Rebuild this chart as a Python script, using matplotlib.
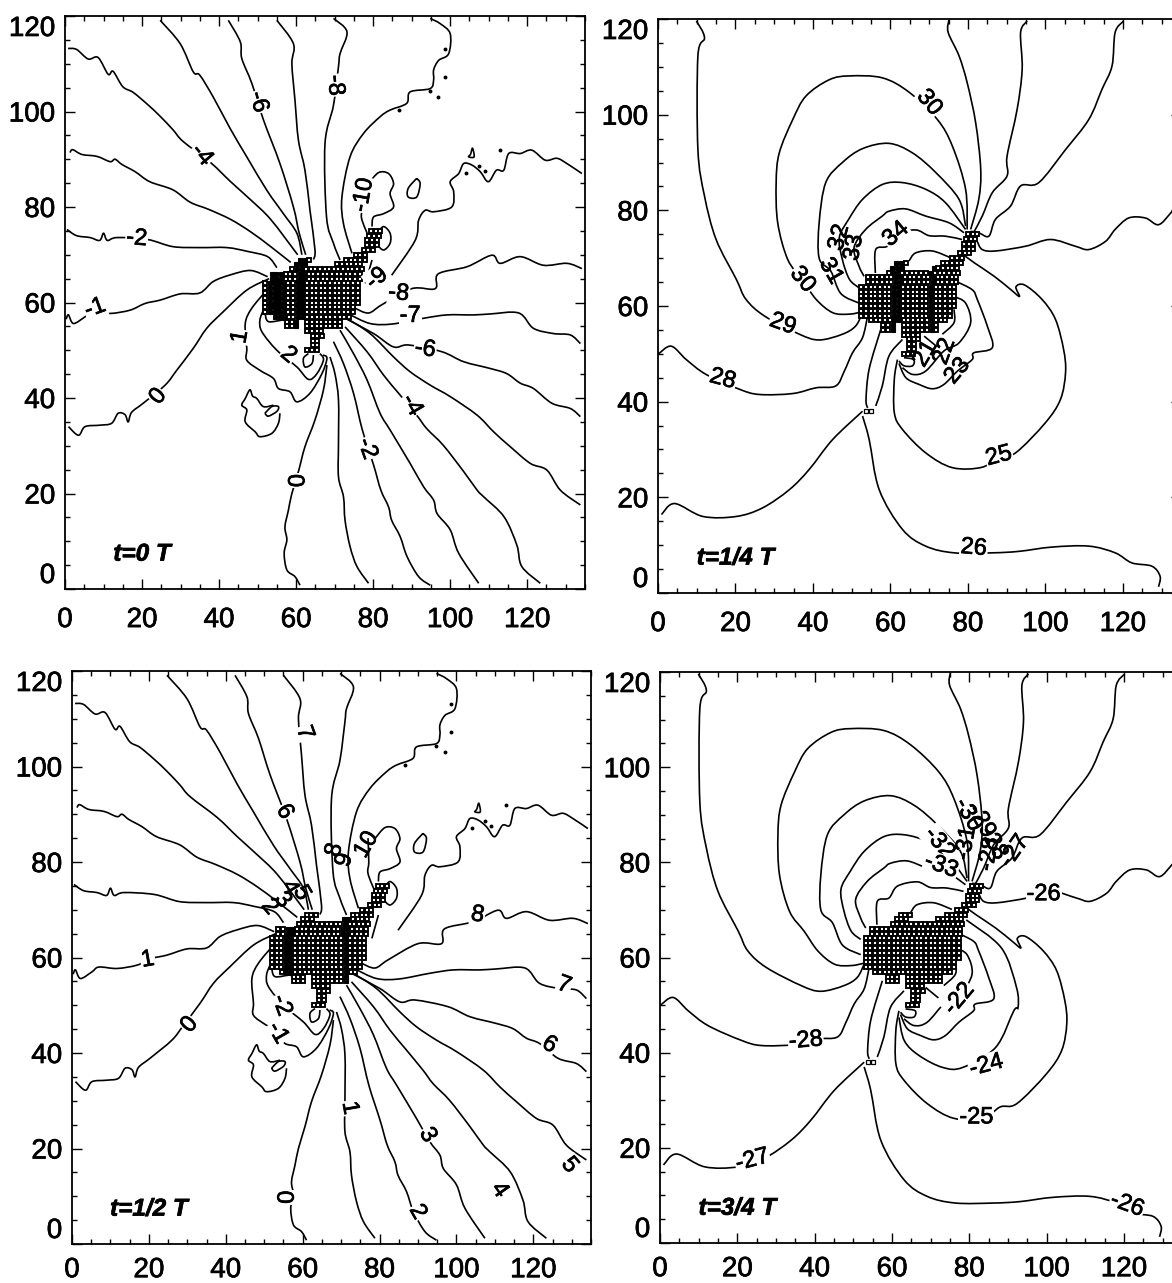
import numpy as np
import matplotlib
matplotlib.use("Agg")
import matplotlib.pyplot as plt
import matplotlib.patheffects as pe
from matplotlib.patches import PathPatch
from matplotlib.path import Path

plt.rcParams["font.family"] = ["Liberation Sans", "DejaVu Sans"]

W, H = 1172, 1283

# ---------------------------------------------------------------------------
# Contours of the two left panels (t=0 T, t=1/2 T), data coordinates
# ---------------------------------------------------------------------------
L_M1 = [(0.3, 56.5), (0.9, 57.4), (2.2, 55.6), (5.2, 57), (7, 58), (11.7, 57.7), (16.9, 58.4), (20.8, 59.8), (24.7, 60.5),
        (29.9, 61.8), (35, 62), (38.5, 64.4), (43, 65.8), (48.2, 66.7), (52.6, 65.4)]
L_M2 = [(0.5, 75.3), (3, 74), (6.5, 73.6), (9, 73), (10, 74.5), (11, 73), (13.5, 73.6), (21.4, 73.2), (28, 71.7), (35, 71.5),
        (42, 71.5), (47.4, 70.7), (52.6, 69.6), (55, 67.3)]
L_M3 = [(1.3, 91.4), (2, 92), (4.4, 91), (8.3, 90.6), (11.7, 89.5), (13, 90), (14.8, 88.9), (18.2, 87.4), (22, 85.3),
        (28, 83.6), (32.5, 81), (37.3, 79.5), (43, 77.4), (48.2, 74.8), (53.4, 71.7), (58.6, 68.4)]
L_M4 = [(0.8, 113.2), (3, 113), (6, 111), (8.6, 111.3), (11.2, 107.8), (12.5, 108.4), (15, 105.2), (17.7, 104), (21.4, 101.5),
        (24.7, 99), (28, 96.2), (30.7, 93.7), (37.8, 89.3), (43, 85.3), (48.2, 81.5), (53.4, 77.4), (60.4, 70)]
L_M5 = [(24.7, 119.1), (29.9, 114.2), (33.3, 108.3), (35, 107.6), (38.5, 103), (42.9, 96.4), (47.2, 90.5), (52.4, 83.5),
        (56.7, 78.6), (60.2, 74.5), (61.5, 70)]
L_M6 = [(42.4, 119.1), (45.5, 114.6), (45.9, 111.1), (48.5, 105.9), (51.5, 98.3), (55.8, 89.1), (59.3, 80), (60.8, 74.5), (62.5, 70)]
L_M7 = [(55, 119.1), (59.3, 114.2), (58.9, 110), (59.7, 102.4), (60.6, 94), (62.3, 87.7), (63.6, 79.3), (64.9, 71), (64.5, 69)]
L_M8 = [(69.7, 119.5), (73.2, 116.7), (71.4, 112.1), (71, 109.4), (69.7, 101.3), (67.5, 93.3), (67.9, 77.9), (69.7, 72.4), (71.4, 68.9)]
L_M9 = [(94.8, 119.5), (97.4, 118.4), (100, 116.3), (99.6, 112.1), (97, 110.7), (95.7, 108.7), (95.7, 106.6), (94.8, 104.8),
        (89.6, 104.1), (88.7, 101.7), (84.4, 100.3), (81.8, 98.9), (77.5, 95.4), (74, 90.5), (71.9, 82.1), (72.3, 76.5), (74.5, 70.3)]
L_M10 = [(78.8, 84.9), (81.4, 87.2), (84, 87), (85.3, 84.9), (84.4, 82.8), (85.3, 80), (82.7, 78.6), (80.1, 77.9), (79.7, 75.9)]
L_M10B = [(77, 85), (77.2, 80), (77, 77.6), (78.8, 73.8)]
L_LOOP1 = [(81.1, 74.5), (82.7, 75.9), (84.4, 74.5), (84.4, 72.4), (82.7, 71), (81.1, 72.3), (81.1, 74.5)]
L_LOOP2 = [(91.3, 86), (92.2, 84.9), (91.3, 82.1), (89.1, 82.1), (89.1, 83.9), (91.3, 86)]
L_LOOP3 = [(105.3, 91), (105.8, 92.3), (106.2, 90.5), (104.8, 90.5), (105.3, 91)]
L_E9 = [(78, 64), (79.7, 68.9)]
L_E9B = [(84.8, 65.7), (90.9, 73), (91.8, 77.2), (93.5, 79.3), (95.7, 79), (100.4, 80), (100.9, 83.2), (100, 85.3), (102.2, 87),
         (103.5, 89.1), (105.6, 88.8), (107.8, 87.4), (109.9, 85.3), (112, 87.7), (113.9, 87.7), (115.2, 91.2), (118.2, 91.2),
         (121.2, 91.9), (124.7, 89.8), (127.7, 90.2), (130.3, 89.1), (134.2, 87)]
L_E8 = [(75.3, 58.8), (78.8, 57.8), (82.2, 59.5), (90, 62.9), (96.1, 62.9), (96.9, 66), (104.4, 67.5), (110.8, 69.9), (113, 68.2),
        (118.2, 69.6), (124.2, 67.8), (130.3, 68.2), (134.2, 67.1)]
L_E7 = [(73.6, 57.6), (79.2, 55.6), (85, 55.5), (93.1, 56.7), (99.2, 57.4), (106.1, 57.4), (110.4, 57.6), (117.8, 57.8), (121.6, 54.6),
        (126.8, 53.5), (131.2, 53.2), (133.8, 51.4)]
L_E6 = [(72.7, 56.7), (80.1, 53.5), (85.3, 50.7), (89.2, 51.1), (97.8, 49.7), (103.5, 47.6), (110.3, 46.2), (114.7, 45.1), (118.2, 43.1),
        (121.6, 42), (126.4, 38.9), (131.2, 37.8), (133.8, 36.1)]
L_E5 = [(73.1, 56.7), (79.2, 53.5), (85.3, 48.6), (89.6, 45.5), (94.8, 42.7), (100, 40.3), (107, 36.4), (111.3, 32.9), (115.6, 29.8),
        (120.8, 26.3), (125.1, 24.9), (128.6, 20.7), (133.8, 17.6)]
L_S4 = [(72.7, 54.9), (78.4, 49.7), (82.7, 44.8), (86.6, 41), (91.3, 36.4), (93.9, 33.6), (98.2, 30.1), (103.5, 24.6), (107, 20.7),
        (108.7, 19.3), (114, 15.1), (117.3, 9.2), (118.6, 4.7), (123.4, 1.2)]
L_S3 = [(71.4, 54.2), (74.9, 49.3), (78.4, 43.8), (81.8, 36.8), (84.4, 33.3), (89.6, 26.3), (93.1, 21.4), (95.7, 18.6), (96.6, 15.8),
        (100, 12.4), (102.2, 7.5), (107.4, 1.2)]
L_S2 = [(69.7, 51.8), (72.3, 47.2), (74.9, 41), (77.2, 33.3), (80.1, 26), (82, 20.7), (84, 17.2), (84.8, 14.4), (87, 11), (88.8, 6.8),
        (91.8, 2.6), (94.8, 0.8)]
L_S1 = [(68.8, 48.6), (70.1, 45), (71, 39.6), (71, 30.5), (71, 23.5), (72.3, 19.3), (72.7, 14.4), (74, 8.9), (75.8, 4.7), (78.8, 1.2)]
L_S0 = [(68, 46.9), (67.1, 41.7), (64.9, 35.4), (62.3, 29.8), (60.6, 24.6), (58.9, 20), (58, 16.5), (57.1, 13), (57.6, 10.3), (56.9, 7.5),
        (57.6, 4), (59.7, 2.6), (61, 0.8)]
L_W0 = [(0.9, 34), (3.5, 32.2), (5.2, 34), (9, 34.3), (12.1, 34.7), (13.8, 36.8), (15.6, 36.5), (16.4, 35), (17.3, 37), (20.3, 38.9),
        (26, 42.7), (29, 45.8), (33.3, 50.4), (36.8, 54.6), (41, 58), (47.2, 62.6), (53, 65)]
L_P1 = [(52.4, 62.6), (48.5, 58.8), (46.8, 55.6), (47.2, 50.4), (47.2, 47.9), (50.6, 45.8), (54.1, 44.1), (55.4, 42), (58.4, 41.3),
        (60.2, 39.2), (63.6, 41), (66.7, 45.1), (68, 48.3), (67, 49)]
L_P2 = [(51.5, 58.4), (50.6, 56.3), (51.1, 53.9), (55, 50), (60.2, 46.5), (63.2, 43.9), (65.4, 45.1), (67.1, 48), (66.2, 49.3)]
L_P3 = [(51.9, 57.9), (52.8, 56), (56.7, 56.3), (57.6, 55.5)]
L_SPIRAL = [(63.2, 49.3), (61.9, 48.3), (62.3, 46.5), (64.1, 47.2), (64.5, 49)]
L_ISLE = [(55.8, 36.8), (55.4, 34.7), (53.7, 32.6), (50.6, 31.9), (49.4, 32.9), (46.8, 35), (47.2, 37.5), (45.9, 38.5), (46.8, 39.9),
          (48, 41.7), (48.7, 40.4), (49.8, 39.9), (51.5, 38.2), (54.1, 38.5)]
L_ISLE2 = [(51.9, 36.8), (53.7, 38.2), (55.4, 38.2), (55, 37.2), (52.8, 36.2), (51.9, 36.8)]
LEFT_LINES = [L_M1, L_M2, L_M3, L_M4, L_M5, L_M6, L_M7, L_M8, L_M9, L_M10, L_M10B, L_LOOP1, L_LOOP2, L_LOOP3, L_E9, L_E9B,
              L_E8, L_E7, L_E6, L_E5, L_S4, L_S3, L_S2, L_S1, L_S0, L_W0, L_P1, L_P2, L_P3, L_SPIRAL, L_ISLE, L_ISLE2]
LEFT_DOTS = [(98.7, 113), (98.7, 107.3), (96.9, 103), (94.8, 104.3), (86.7, 100.3), (113, 91.9), (104, 87.1), (107.5, 88.5), (109, 87.5)]

# ---------------------------------------------------------------------------
# Contours of the two right panels (t=1/4 T, t=3/4 T)
# ---------------------------------------------------------------------------
R_A = [(9.9, 119.6), (12, 116.1), (10.3, 112.3), (10.3, 92.7), (12, 83), (15, 73.9), (20.2, 65.6), (22.7, 61.4), (27.5, 57.9),
       (36.5, 54.1), (41.6, 52.9), (47.6, 54.1), (51, 55.8), (52.8, 58.6)]
R_B = [(79.8, 76), (79.4, 84.4), (76, 93.4), (72.1, 99), (64.8, 104.7), (57.9, 107.7), (49.4, 108.1), (44.2, 107.3), (38.2, 103.9),
       (34.8, 99), (31.3, 92), (30.5, 85.8), (30.9, 77.4), (33.5, 69.7), (37.3, 65.5), (40.8, 61.4), (45.1, 58.6), (49.4, 58.3), (52.8, 58.8)]
R_C = [(79.4, 76.7), (77.7, 82.3), (71.7, 87.9), (65.7, 92), (59.6, 94), (52.8, 92.9), (47.6, 90), (43.3, 85.8), (41.6, 77.4), (41.6, 70),
       (44.6, 67.3), (47.2, 62.6), (51.9, 60.6)]
R_D = [(79.4, 76), (74.2, 81.6), (69.1, 84.4), (63.1, 85.8), (57.9, 85.4), (52.8, 82.3), (49.2, 78.1), (46.8, 74.3), (47.6, 69.7),
       (49.4, 65.6), (51.9, 63.8)]
R_E = [(79, 75.3), (75.1, 77.4), (69.1, 78.8), (63.9, 80.3), (59.6, 79.8), (57.9, 78.8), (53.6, 76), (50.6, 72.2), (51.9, 68.3), (53.2, 66.2)]
R_F = [(78.5, 73.9), (74.2, 74.6), (70, 74.7), (66.5, 75.9), (61.4, 75), (59.2, 72.5), (56.2, 71.8), (56.1, 66.9)]
R_G = [(64.8, 69.4), (66.5, 71.1), (70.8, 71.5), (75.5, 70.1)]
R_N1 = [(75.1, 119.8), (74.9, 117.2), (77.7, 112.3), (79.8, 106.7), (82, 98.3), (83.3, 88.6), (82.8, 82.3), (80.7, 76)]
R_N2 = [(95.3, 119.6), (93.6, 117.2), (94, 109.5), (92.7, 101.1), (90.1, 91.3), (90.1, 87.2), (86.3, 83.7), (83.7, 78.8), (81.5, 75.4)]
R_N3 = [(120.2, 119.6), (118, 117.2), (117.2, 110.2), (114.6, 105.3), (111.2, 99), (105.2, 92.7), (98.3, 85.8), (93.6, 85.1), (91, 80.9),
        (87.1, 78.1), (85.4, 74.6), (82.8, 75.3), (80.7, 75.6)]
R_EAST = [(135, 82), (132.4, 79.5), (129.2, 77), (125.8, 78.4), (121.5, 78.4), (118, 76), (115.5, 73.5), (111.2, 71.8), (107.7, 72.5),
          (101.3, 73.9), (94.9, 72.5), (87.1, 71.5), (83.7, 71.8), (82.4, 73.5)]
R_RING = [(78.7, 70.8), (81.7, 69), (86.8, 66.2), (91.1, 63.4), (93.3, 62), (92.4, 64), (94.6, 64.4), (99.1, 61.4), (102.6, 57.2),
          (104.7, 50.9), (105.2, 46.1), (103.9, 40.5), (100, 35.6), (92.3, 29.3), (88, 28.6), (83.7, 26.3), (76, 26.2), (69.1, 29.3),
          (63.1, 34.2), (61, 37.7), (61, 44.7), (61.8, 48.8)]
R_H = [(76.8, 65.2), (81.1, 63.4), (82.4, 61.4), (85, 55.8), (86.3, 51.3), (81.5, 50.2), (81.1, 48.8), (77.3, 46.4), (73.8, 43.6),
       (70.8, 42.7), (67.4, 43.6), (64, 45), (62.2, 48)]
R_I = [(76.4, 62), (79.4, 60.6), (80.7, 56.5), (77.7, 52.3), (73.8, 50.6), (69.1, 46.4), (65.7, 45.7), (63.1, 47.1)]
R_J = [(76.4, 59.3), (76.4, 56.5), (73.4, 54.1)]
R_J2 = [(68.7, 53.7), (72, 51.5)]
R_J3 = [(63.5, 49.2), (66, 48.8), (65.7, 47.5), (63.5, 47.5), (62.2, 48.5)]
R_W28 = [(0, 49.9), (3.4, 51.6), (7.3, 48.8), (12.4, 45.7), (21, 42.6), (26.2, 41.5), (34.8, 41.7), (40.8, 42.9), (45.9, 43.3), (48.1, 46.4),
         (50.2, 50.2), (52.8, 53.4), (54.1, 57.9)]
R_S2 = [(57.5, 55.1), (54.5, 46.8), (53.7, 40.5), (54.1, 38.7)]
R_S3 = [(63.1, 53), (59.6, 49.5), (57.9, 43.3), (56.2, 39.1)]
R_W27 = [(0.9, 16.4), (4.3, 18.7), (11.6, 16), (20.2, 16), (27, 17.8), (33.9, 21.6), (39, 25.8), (45.1, 32.1), (52.8, 38)]
R_S26 = [(52.8, 37), (54.5, 32.1), (57.1, 21.6), (63.1, 13.3), (69.1, 9.8), (76.4, 8.4), (86.3, 8.4), (93.1, 8.7), (101.7, 9.6), (111.2, 9.8),
         (118, 8.4), (122.3, 6.3), (127.5, 5.6), (129.6, 3.5), (129.2, 1.3)]
RIGHT_LINES = [R_A, R_B, R_C, R_D, R_E, R_F, R_G, R_N1, R_N2, R_N3, R_EAST, R_RING, R_H, R_I, R_J, R_J2, R_J3, R_W28, R_S2, R_S3, R_W27, R_S26]
# only in t=3/4 T
R_M24 = [(79.2, 67.9), (88.3, 62), (92.2, 53.7), (92.6, 49.5), (91.5, 48.8), (86.8, 41.1), (78.3, 36.9), (73.1, 36.9), (67, 39.4), (63.2, 42.5), (61.8, 47.4)]

# land cells: row y -> x ranges
MASK_ROWS = [(75, [(80.5, 83.5)]), (74, [(80, 83.5)]), (73, [(79.5, 83)]), (72, [(79.5, 82)]), (71, [(78.5, 81)]), (70, [(76.5, 79.5)]),
             (69, [(62, 64.5), (74, 79)]), (68, [(61, 64.5), (71.7, 78.6)]), (67, [(60, 78.6)]), (66, [(54.7, 78.3)]), (65, [(54.7, 78)]),
             (64, [(53, 78)]), (63, [(53, 78)]), (62, [(53, 78)]), (61, [(53, 77.8)]), (60, [(53, 77)]), (59, [(53, 76)]), (58, [(53, 76)]),
             (57, [(55.5, 75.5)]), (56, [(58.7, 61.7), (63.9, 72.6)]), (55, [(58.7, 61.7), (63.9, 72.6)]), (54, [(63.9, 68.2)]),
             (53, [(65.3, 68.2)]), (52, [(65.3, 67.4)]), (51, [(65.3, 67)]), (50, [(63.9, 66.5)])]
SMALL_CELLS = [(53.8, 38), (55, 38)]

# contour labels: text, x, y, rotation
TL_LABELS = [("-1", 7.8, 58.8, 20), ("0", 24.2, 40.3, 50), ("1", 45.5, 52.8, 80), ("2", 58, 49, -40), ("0", 60.6, 22.7, 90),
             ("-2", 78.4, 29.4, -70), ("-4", 90, 38.5, -60), ("-6", 93.5, 50.2, -8), ("-7", 89.6, 57.2, 0), ("-8", 86.6, 61.9, -5),
             ("-9", 81, 65, 40), ("-10", 77.5, 82.5, 80), ("-8", 70.1, 105.5, -85), ("-6", 50.2, 102, -75), ("-4", 35.5, 90.9, -50),
             ("-2", 18.6, 73.4, -5)]
BL_LABELS = [("1", 19.7, 59.5, 10), ("0", 30.6, 45.9, 50), ("-2", 54.5, 50, -70), ("-1", 53.5, 44.2, -60), ("0", 56.1, 9.8, 90),
             ("1", 72.2, 28.5, -80), ("2", 89.9, 6.7, -60), ("3", 92.5, 22.8, -60), ("4", 111.2, 11.3, -55), ("5", 129.4, 16.5, -50),
             ("6", 124.2, 41.7, -30), ("7", 128, 54.2, -20), ("8", 105.5, 68.9, -10), ("6", 55.3, 90.5, -60), ("7", 60.5, 107, -70)]
BL_TIGHT = [("8", 68.3, 82.5, 75), ("9", 70.9, 80.4, 75), ("10", 76.6, 83.6, 60), ("2", 51.4, 70.6, -50), ("3", 54.8, 72, -50),
            ("4", 56.6, 74.6, -60), ("5", 59.7, 73.5, -60)]
TR_LABELS = [("30", 70, 102.5, -50), ("30", 37.3, 65.5, -50), ("29", 32.2, 56.2, -20), ("28", 16.7, 44.7, -15), ("25", 88, 28.6, 15),
             ("26", 81.5, 9.4, -5), ("34", 61.4, 75, 40)]
TR_TIGHT = [("31", 44.6, 67.3, -60), ("32", 46.8, 74.3, 75), ("33", 50.6, 72.2, 80), ("23", 77.3, 46.4, 50), ("22", 74, 50.5, 70), ("21", 69, 50, 60)]
BR_LABELS = [("-26", 99.2, 73.3, 0), ("-24", 84.4, 37.3, 15), ("-25", 81.8, 26.4, 0), ("-28", 37.7, 42.5, 5), ("-27", 23.9, 17.4, 15),
             ("-26", 120.8, 8, -20), ("-32", 72.2, 84, -50), ("-33", 72.7, 79.2, -20), ("-22", 77.4, 51.3, 50)]
BR_TIGHT = [("-31", 79.2, 84, 80), ("-30", 79.7, 90, -60), ("-29", 83.1, 88.6, -60), ("-28", 86.2, 84, -60), ("-28", 85.2, 81.7, 80),
            ("-27", 91.7, 82.3, 55)]

X_TICKS = [0, 20, 40, 60, 80, 100, 120]
Y_TICKS = [0, 20, 40, 60, 80, 100, 120]
X_MINOR = [5, 10, 15, 25, 30, 35, 45, 50, 55, 65, 70, 75, 85, 90, 95, 105, 110, 115, 125, 130, 135]
Y_MINOR = [5, 10, 15, 25, 30, 35, 45, 50, 55, 65, 70, 75, 85, 90, 95, 105, 110, 115]

HEAVY = [pe.withStroke(linewidth=0.5, foreground="black")]


def smooth_path(line):
    # bezier through the read points, the original contours are not polygonal
    pts = np.array(line, dtype=float)
    verts = [pts[0]]
    codes = [Path.MOVETO]
    n = len(pts)
    for i in range(n - 1):
        p0, p1, p2, p3 = pts[max(i - 1, 0)], pts[i], pts[i + 1], pts[min(i + 2, n - 1)]
        verts += [p1 + (p2 - p0) / 6, p2 - (p3 - p1) / 6, p2]
        codes += [Path.CURVE4] * 3
    return Path(verts, codes)


def draw_panel(box, lines, labels, tight, title, shift, dark, pad_x, dots=(), cells=()):
    left, top, right, bottom = box
    ax = plt.gcf().add_axes([left / W, 1 - bottom / H, (right - left) / W, (bottom - top) / H])
    ax.set_xlim(0, 135)
    ax.set_ylim(0, 120)

    for line in lines:
        ax.add_patch(PathPatch(smooth_path(line), fc="none", ec="black", lw=1.2, zorder=2))
    if len(dots):
        xs, ys = zip(*dots)
        ax.plot(xs, ys, "o", color="black", ms=1.8, zorder=2)

    # land cells
    for y, ranges in MASK_ROWS:
        for x0, x1 in ranges:
            xs = np.arange(x0, x1 + 0.01, 1.2) + shift
            solid = np.array([any(a <= x <= b for a, b in dark) for x in xs], dtype=bool)
            ys = np.full(len(xs), y)
            ax.plot(xs[~solid], ys[~solid], "s", ms=3.0, mfc="white", mec="black", mew=1.35, zorder=4)
            ax.plot(xs[solid], ys[solid], "s", ms=3.4, mfc="black", mec="black", mew=0.8, zorder=4)
    for x, y in cells:
        ax.plot(x, y, "s", ms=3.1, mfc="white", mec="black", mew=0.9, zorder=4)

    for text, x, y, rot in labels:
        ax.text(x, y, text, fontsize=17, rotation=rot, rotation_mode="anchor", ha="center", va="center", zorder=5,
                bbox=dict(fc="white", ec="none", pad=0.6), path_effects=HEAVY)
    for text, x, y, rot in tight:
        ax.text(x, y, text, fontsize=17, rotation=rot, rotation_mode="anchor", ha="center", va="center", zorder=6,
                path_effects=HEAVY)

    ax.text(20, 7.3, title, fontsize=17.5, fontweight="bold", style="italic", ha="center", va="center", path_effects=HEAVY)

    ax.set_xticks(X_TICKS)
    ax.set_yticks(Y_TICKS)
    ax.set_xticks(X_MINOR, minor=True)
    ax.set_yticks(Y_MINOR, minor=True)
    ax.tick_params(which="both", direction="in", top=True, right=True, width=1.0)
    ax.tick_params(which="major", length=7.2)
    ax.tick_params(which="minor", length=3.6)
    ax.tick_params(axis="x", which="major", pad=pad_x, labelsize=20)
    ax.tick_params(axis="y", which="major", pad=7, labelsize=20)
    ylabels = ax.get_yticklabels()
    ylabels[0].set_verticalalignment("bottom")
    ylabels[-1].set_verticalalignment("top")
    for label in ax.get_xticklabels() + ylabels:
        label.set_path_effects(HEAVY)
    for spine in ax.spines.values():
        spine.set_linewidth(1.3)
    return ax


fig = plt.figure(figsize=(W / 100, H / 100), dpi=100, facecolor="white")

draw_panel((65, 16, 585, 589), LEFT_LINES, TL_LABELS, [], "t=0 T", -1.0, [(53, 57), (60, 62.5)], 13, dots=LEFT_DOTS)
draw_panel((658, 19, 1181, 593), RIGHT_LINES, TR_LABELS, TR_TIGHT, "t=1/4 T", -0.5, [(60.5, 63), (70, 71.5)], 13, cells=SMALL_CELLS)
draw_panel((72, 671, 591, 1244), LEFT_LINES, BL_LABELS, BL_TIGHT, "t=1/2 T", -1.0, [(55, 57.5), (70.5, 72)], 9.5, dots=LEFT_DOTS)
draw_panel((660, 672, 1182, 1243), RIGHT_LINES + [R_M24], BR_LABELS, BR_TIGHT, "t=3/4 T", 0.2, [], 9.5, cells=SMALL_CELLS)

fig.savefig("out.png", dpi=100)
